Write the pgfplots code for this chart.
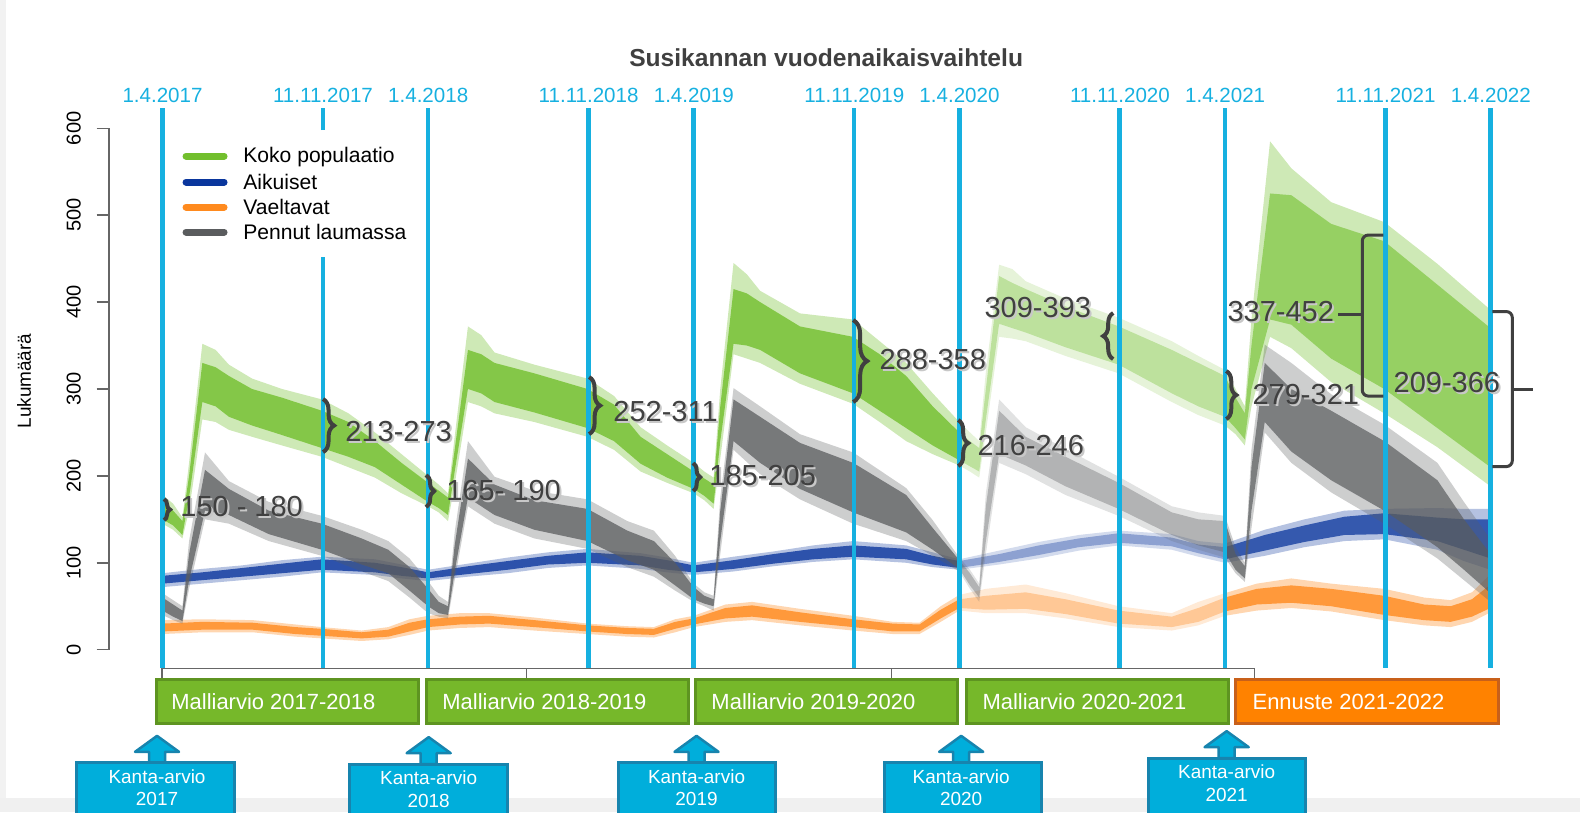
\documentclass[border=0pt]{standalone}
\usepackage{fontspec}
\setmainfont{Liberation Sans}
\usepackage{pgfplots}
\pgfplotsset{compat=1.18}
\usepackage{pgfplotstable}
\usepgfplotslibrary{fillbetween}
\usetikzlibrary{decorations.pathreplacing}
\definecolor{cy}{HTML}{16B0E0}
\definecolor{gr}{HTML}{72BF2D}
\definecolor{bl}{HTML}{0A369D}
\definecolor{orr}{HTML}{FF8A1E}
\definecolor{gy}{HTML}{5A5C5E}
\definecolor{txt}{HTML}{404040}
\definecolor{shad}{HTML}{C8C8C8}
\definecolor{boxg}{HTML}{76B82A}
\definecolor{boxgb}{HTML}{5E9421}
\definecolor{boxo}{HTML}{FF8200}
\definecolor{boxob}{HTML}{C8601A}
\definecolor{kb}{HTML}{00AEDB}
\definecolor{kbb}{HTML}{1784AE}

\pgfplotstableread{
x olo clo chi ohi
2017.250 145 150 170 178
2017.290 138 143 160 168
2017.325 128 132 148 152
2017.350 160 175 200 215
2017.400 265 285 330 352
2017.450 262 280 325 345
2017.500 253 268 315 328
2017.587 245 258 300 312
2017.700 235 247 290 300
2017.850 222 232 275 288
2017.950 210 222 262 272
2018.050 198 210 240 250
2018.150 180 190 215 225
2018.250 165 170 192 200
2018.290 158 163 183 190
2018.325 148 155 175 180
2018.350 190 205 230 245
2018.400 285 300 345 372
2018.450 280 295 340 362
2018.500 272 285 330 342
2018.650 262 273 318 328
2018.850 245 255 300 312
2018.950 230 240 282 292
2019.050 205 214 245 256
2019.150 192 198 225 235
2019.250 180 185 205 215
2019.290 172 177 197 205
2019.325 162 168 190 198
2019.350 220 240 280 300
2019.400 340 352 415 445
2019.450 335 350 410 432
2019.500 330 345 400 413
2019.650 306 318 372 387
2019.850 283 295 360 380
2019.950 262 275 340 355
2020.050 240 255 315 330
2020.150 225 235 280 295
2020.250 212 218 250 262
2020.290 205 211 240 250
2020.325 198 205 232 240
2020.350 250 265 300 320
2020.400 360 375 430 443
2020.450 358 370 422 438
2020.500 355 365 415 424
2020.650 338 348 395 404
2020.850 318 328 372 382
2021.050 285 295 345 355
2021.150 270 280 330 338
2021.250 258 268 315 322
2021.290 248 255 290 300
2021.325 235 242 272 280
2021.350 280 300 350 380
2021.420 360 380 525 585
2021.500 347 374 523 554
2021.650 308 335 490 515
2021.850 272 300 470 492
2022.050 233 255 420 444
2022.250 188 210 370 391
}\green

\pgfplotstableread{
x olo clo chi ohi
2017.250 40 45 60 65
2017.290 34 38 52 57
2017.325 30 33 45 50
2017.350 70 80 110 125
2017.410 150 160 207 227
2017.500 145 155 185 194
2017.650 125 133 160 170
2017.850 108 115 145 154
2018.000 90 98 128 138
2018.100 79 88 115 125
2018.180 60 68 95 105
2018.250 42 50 70 79
2018.290 38 42 55 62
2018.325 36 40 50 55
2018.350 80 90 120 135
2018.400 165 175 220 240
2018.500 145 155 190 199
2018.650 128 138 172 183
2018.850 116 125 162 173
2019.000 95 103 137 148
2019.100 84 92 125 137
2019.180 68 74 100 108
2019.250 55 58 72 76
2019.290 50 53 62 66
2019.325 45 50 58 62
2019.350 110 125 160 175
2019.400 230 240 288 301
2019.500 202 215 268 280
2019.650 173 185 238 248
2019.850 145 158 215 227
2020.050 125 135 178 186
2020.150 108 115 140 149
2020.250 90 93 103 106
2020.290 70 74 88 92
2020.325 55 60 72 76
2020.350 110 125 165 180
2020.400 215 225 275 288
2020.500 202 212 245 256
2020.650 178 188 222 231
2020.850 154 162 192 199
2021.050 125 132 158 165
2021.150 115 120 150 158
2021.250 106 112 148 154
2021.290 88 92 110 118
2021.325 78 82 96 100
2021.350 140 160 210 230
2021.400 250 262 330 351
2021.500 215 228 300 330
2021.650 181 195 275 294
2021.850 145 160 240 259
2022.050 105 118 195 215
2022.150 80 92 150 170
2022.250 55 65 110 127
}\pups

\pgfplotstableread{
x olo clo chi ohi
2017.250 72 76 85 88
2017.400 76 80 89 93
2017.550 80 84 94 97
2017.700 84 88 99 103
2017.850 89 92 104 107
2018.050 86 89 100 104
2018.150 82 85 95 98
2018.250 79 82 89 92
2018.400 84 87 96 99
2018.550 88 92 102 106
2018.700 94 98 108 112
2018.850 97 100 112 116
2019.050 93 97 108 111
2019.150 89 92 103 106
2019.250 86 89 97 100
2019.400 90 93 103 107
2019.550 96 99 110 113
2019.700 101 104 116 120
2019.850 104 107 120 125
2020.050 100 104 116 120
2020.150 95 98 108 112
2020.250 92 94 102 104
2020.400 98 101 110 114
2020.550 105 109 120 124
2020.700 114 118 128 132
2020.850 120 123 134 137
2021.050 115 119 129 133
2021.150 107 111 121 125
2021.250 100 104 118 122
2021.400 108 114 132 138
2021.550 118 124 143 150
2021.700 125 132 153 160
2021.850 127 133 157 162
2022.050 115 125 152 163
2022.150 102 115 150 162
2022.250 92 105 150 162
}\adults

\pgfplotstableread{
x olo clo chi ohi
2017.250 18 21 30 34
2017.400 20 23 32 35
2017.590 20 23 31 34
2017.750 15 18 26 29
2017.850 13 16 24 26
2018.000 10 13 20 22
2018.100 12 15 23 26
2018.180 17 21 31 35
2018.250 22 26 35 39
2018.370 25 29 38 42
2018.480 26 30 39 42
2018.650 22 26 34 37
2018.850 18 21 28 30
2019.000 15 18 25 27
2019.100 14 17 24 26
2019.180 20 24 32 35
2019.250 26 29 36 39
2019.370 32 36 48 52
2019.470 34 38 51 55
2019.650 28 32 43 47
2019.850 22 26 35 39
2020.000 18 21 30 32
2020.100 18 21 29 31
2020.180 32 36 46 50
2020.250 45 48 58 63
2020.350 42 46 62 70
2020.500 42 47 66 75
2020.650 36 41 58 65
2020.850 26 30 45 50
2021.050 22 26 38 42
2021.150 28 32 48 55
2021.250 39 44 60 65
2021.370 45 52 70 76
2021.500 48 54 74 82
2021.650 44 50 70 76
2021.850 34 40 62 70
2022.000 28 34 52 60
2022.100 26 32 50 57
2022.180 32 38 58 66
2022.250 43 48 75 87
}\wander

\newcommand{\band}[6]{% table, color, prefix, outer opacity, core opacity, forecast core opacity
  \addplot[draw=none, name path=#3a] table[x=x,y=olo]{#1};
  \addplot[draw=none, name path=#3b] table[x=x,y=clo]{#1};
  \addplot[draw=none, name path=#3c] table[x=x,y=chi]{#1};
  \addplot[draw=none, name path=#3d] table[x=x,y=ohi]{#1};
  \addplot[fill=#2, fill opacity=#4, draw=none] fill between[of=#3a and #3d, soft clip={domain=2017.25:2020.25}];
  \addplot[fill=#2, fill opacity=0.18, draw=none] fill between[of=#3a and #3d, soft clip={domain=2020.25:2021.25}];
  \addplot[fill=#2, fill opacity=#4, draw=none] fill between[of=#3a and #3d, soft clip={domain=2021.25:2022.25}];
  \addplot[fill=#2, fill opacity=#5, draw=none] fill between[of=#3b and #3c, soft clip={domain=2017.25:2020.25}];
  \addplot[fill=#2, fill opacity=0.35, draw=none] fill between[of=#3b and #3c, soft clip={domain=2020.25:2021.25}];
  \addplot[fill=#2, fill opacity=#6, draw=none] fill between[of=#3b and #3c, soft clip={domain=2021.25:2022.25}];
}

\newcommand{\ann}[3]{%
  \node[anchor=west, inner sep=0pt, text=shad, font=\fontsize{16.5pt}{19pt}\selectfont] at ({#1+2},{#2+2}) {#3};
  \node[anchor=west, inner sep=0pt, text=txt, font=\fontsize{16.5pt}{19pt}\selectfont] at (#1,#2) {#3};
}

\begin{document}
\begin{tikzpicture}
\begin{axis}[
  x=5.312cm, y=0.01738cm,
  xmin=2017.0486, xmax=2022.587,
  ymin=0, ymax=600,
  clip=false,
  axis x line=none,
  axis y line=left,
  y axis line style={-, draw=gray!80!black, line width=0.03cm},
  ytick={0,100,...,600},
  tick align=outside,
  major tick length=0.25cm,
  ytick style={draw=gray!80!black, line width=0.03cm},
  yticklabel style={rotate=90, anchor=south, font=\fontsize{11.4pt}{13pt}\selectfont},
  /pgf/number format/assume math mode=true,
  yticklabel shift=0.19cm,
]
\band{\green}{gr}{G}{0.35}{0.8}{0.6}
\band{\adults}{bl}{B}{0.3}{0.8}{0.75}
\band{\wander}{orr}{O}{0.35}{0.8}{0.8}
\band{\pups}{gy}{P}{0.3}{0.75}{0.7}

\addplot[cy, line width=0.09cm, unbounded coords=jump] coordinates {
 (2017.25,-21) (2017.25,623.5) (2017.25,nan)
 (2017.854,598) (2017.854,623.5) (2017.854,nan)
 (2017.854,-21) (2017.854,452) (2017.854,nan)
 (2018.25,-21) (2018.25,623.5) (2018.25,nan)
 (2018.854,-21) (2018.854,623.5) (2018.854,nan)
 (2019.25,-21) (2019.25,623.5) (2019.25,nan)
 (2019.854,-21) (2019.854,623.5) (2019.854,nan)
 (2020.25,-21) (2020.25,623.5) (2020.25,nan)
 (2020.854,-21) (2020.854,623.5) (2020.854,nan)
 (2021.25,-21) (2021.25,623.5) (2021.25,nan)
 (2021.854,-21) (2021.854,623.5) (2021.854,nan)
 (2022.25,-21) (2022.25,623.5)
};
\coordinate (O) at (axis cs:2016.63817,747.64);
\end{axis}

\begin{scope}[shift={(O)}, x=0.02cm, y=-0.02cm]
% background bits
\fill[gray!12] (0,798) rectangle (1580,812);
\fill[gray!10] (0,0) rectangle (6,798);
% title
\node[font=\bfseries\fontsize{14pt}{16pt}\selectfont, text=txt] at (826,57.5) {Susikannan vuodenaikaisvaihtelu};
% y label
\node[rotate=90, font=\fontsize{10.8pt}{12pt}\selectfont] at (24,381) {Lukumäärä};
% date labels
\foreach \xx/\lab in {162.5/1.4.2017, 322.9/11.11.2017, 428.1/1.4.2018, 588.5/11.11.2018, 693.7/1.4.2019, 854.1/11.11.2019, 959.3/1.4.2020, 1119.7/11.11.2020, 1224.9/1.4.2021, 1385.3/11.11.2021, 1490.5/1.4.2022}
  \node[text=cy, font=\fontsize{11.7pt}{13pt}\selectfont] at (\xx,95.5) {\lab};
% legend
\draw[gr, line width=0.14cm, line cap=round] (186,156) -- (224,156);
\draw[bl, line width=0.14cm, line cap=round] (186,182) -- (224,182);
\draw[orr, line width=0.14cm, line cap=round] (186,207) -- (224,207);
\draw[gy, line width=0.14cm, line cap=round] (186,232) -- (224,232);
\node[anchor=west, inner sep=0pt, font=\fontsize{12pt}{14pt}\selectfont] at (243,157) {Koko populaatio};
\node[anchor=west, inner sep=0pt, font=\fontsize{12pt}{14pt}\selectfont] at (243,182) {Aikuiset};
\node[anchor=west, inner sep=0pt, font=\fontsize{12pt}{14pt}\selectfont] at (243,207) {Vaeltavat};
\node[anchor=west, inner sep=0pt, font=\fontsize{12pt}{14pt}\selectfont] at (243,232) {Pennut laumassa};
% R-style x axis
\draw[gray!80!black, line width=0.025cm] (162,668) -- (1254.5,668);
\foreach \xx in {162,526.5,891,1254.5} \draw[gray!80!black, line width=0.025cm] (\xx,668) -- (\xx,678);
% braces
\begin{scope}[txt, line width=0.08cm]
\draw[decorate, decoration={brace, amplitude=0.12cm}] (164,499) -- (164,520);
\draw[decorate, decoration={brace, amplitude=0.22cm}] (323,399) -- (323,452);
\draw[decorate, decoration={brace, amplitude=0.16cm}] (426,475) -- (426,507);
\draw[decorate, decoration={brace, amplitude=0.22cm}] (589,377) -- (589,434);
\draw[decorate, decoration={brace, amplitude=0.14cm}] (693,463) -- (693,491);
\draw[decorate, decoration={brace, amplitude=0.28cm}] (853,320) -- (853,402);
\draw[decorate, decoration={brace, amplitude=0.2cm}] (958,420) -- (958,466);
\draw[decorate, decoration={brace, amplitude=0.2cm}] (1113,359) -- (1113,313);
\draw[decorate, decoration={brace, amplitude=0.2cm}] (1226,371) -- (1226,419);
\end{scope}
\begin{scope}[txt, line width=0.06cm]
\draw[rounded corners=0.12cm] (1383,235) -- (1362,235) -- (1362,396) -- (1383,396);
\draw (1338,314) -- (1362,314);
\draw[rounded corners=0.12cm] (1492,311.5) -- (1512,311.5) -- (1512,466.5) -- (1492,466.5);
\draw (1512,389) -- (1533,389);
\end{scope}
% annotation numbers
\ann{180}{506}{150 - 180}
\ann{345}{431}{213-273}
\ann{446}{490}{165- 190}
\ann{613}{411}{252-311}
\ann{709}{475}{185-205}
\ann{879}{359}{288-358}
\ann{977}{445}{216-246}
\ann{984}{307.5}{309-393}
\ann{1252}{394}{279-321}
\ann{1227}{311.5}{337-452}
\ann{1393}{382}{209-366}
% model boxes
\begin{scope}[line width=0.06cm]
\draw[boxgb, fill=boxg] (156,679) rectangle (418,723);
\draw[boxgb, fill=boxg] (426.5,679) rectangle (688.8,723);
\draw[boxgb, fill=boxg] (695,679) rectangle (957.5,723);
\draw[boxgb, fill=boxg] (966.7,679) rectangle (1228,723);
\draw[boxob, fill=boxo] (1235.6,679) rectangle (1498.4,723);
\end{scope}
\foreach \xx/\lab in {171/Malliarvio 2017-2018, 442/Malliarvio 2018-2019, 711/Malliarvio 2019-2020, 982/Malliarvio 2020-2021, 1252/Ennuste 2021-2022}
  \node[anchor=west, inner sep=0pt, text=white, font=\fontsize{12.5pt}{14pt}\selectfont] at (\xx,701.5) {\lab};
% Kanta-arvio boxes with arrows
\foreach \cx/\bl/\br/\top/\yr in {157/76.5/234.7/762.7/2017, 428.6/349.5/507.6/764/2018, 696.4/618/775.5/762.7/2019, 961/884.6/1041.7/762.7/2020, 1226.4/1148/1305.5/758/2021} {
  \draw[kbb, fill=kb, line width=0.05cm, line join=round]
    (\cx,\top-27) -- (\cx+22,\top-11) -- (\cx+8,\top-11) -- (\cx+8,\top) -- (\cx-8,\top) -- (\cx-8,\top-11) -- (\cx-22,\top-11) -- cycle;
  \draw[kbb, fill=kb, line width=0.06cm] (\bl,\top) rectangle (\br,830);
  \node[text=white, align=center, font=\fontsize{10.8pt}{12.6pt}\selectfont] at (\cx,{\top+25}) {Kanta-arvio\\\yr};
}
\end{scope}

\pgfresetboundingbox
\path[use as bounding box] (O) rectangle ++(31.6cm,-16.24cm);
\end{tikzpicture}
\end{document}
